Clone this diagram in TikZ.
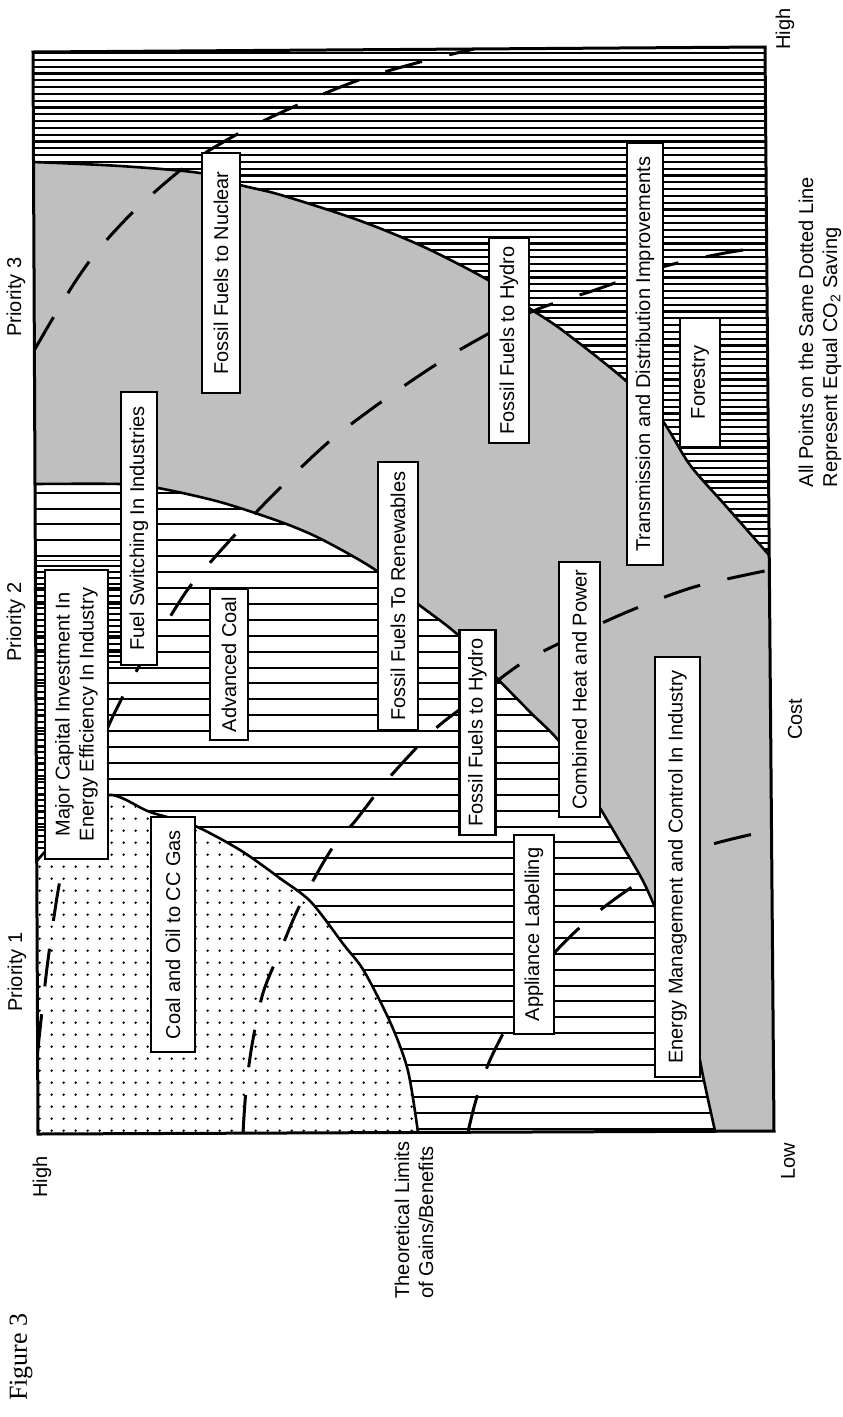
\documentclass[tikz,border=0pt]{standalone}
\usepackage{fontspec}
\setmainfont{Liberation Sans}
\newfontfamily\figserif{Liberation Serif}
\tikzset{
  lbl/.style={draw, fill=white, line width=2.4pt, rotate=90, inner sep=0pt, align=center, font=\fontsize{20}{24}\selectfont},
  txt/.style={rotate=90, inner sep=0pt, font=\fontsize{20}{24}\selectfont},
  bnd/.style={line width=2.6pt, line join=round},
  iso/.style={line width=3pt, dash pattern=on 38pt off 28pt},
  hatchA/.style={line width=2.2pt},
  hatchB/.style={line width=2pt},
  ladder/.style={line width=1.4pt},
}
\begin{document}
\begin{tikzpicture}[x=1pt,y=-1pt]
\useasboundingbox (0,0) rectangle (843,1417);
\fill[white] (0,0) rectangle (843,1417);
\coordinate (tl) at (33,52);
\coordinate (tr) at (765,47);
\coordinate (br) at (774,1131);
\coordinate (bl) at (38,1134);

% grey stippled band
\fill[black!25] plot[smooth] coordinates {(33.5,162) (120,166) (200,173) (240,185) (281,195) (358,220) (424,247) (488,280) (529,308) (562,330) (625,380) (662,420) (690,465) (725,505) (769,555)} -- (br) -- (715,1131) -- plot[smooth] coordinates {(715,1131) (703,1076) (690,1010) (670,945) (645,885) (619,840) (600,808) (562,745) (530,712) (494,675) (458,635) (418,604) (374,569) (321,539) (281,522) (220,502) (158,488) (120,484) (35,484)} -- cycle;

% Priority 3 dense hatching
\begin{scope}
\clip (tl) -- (tr) -- (769,555) -- plot[smooth] coordinates {(769,555) (725,505) (690,465) (662,420) (625,380) (562,330) (529,308) (488,280) (424,247) (358,220) (281,195) (240,185) (200,173) (120,166) (33.5,162)} -- cycle;
\foreach \y in {53,59.8,...,562} \draw[hatchA] (30,\y) -- (775,\y);
\end{scope}

% Priority 2 hatching
\begin{scope}
\clip plot[smooth] coordinates {(35,484) (120,484) (158,488) (220,502) (281,522) (321,539) (374,569) (418,604) (458,635) (494,675) (530,712) (562,745) (600,808) (619,840) (645,885) (670,945) (690,1010) (703,1076) (715,1131)} -- (418,1132.5) -- plot[smooth] coordinates {(418,1132.5) (408,1071) (391,1024) (364,971) (344,945) (311,902) (281,879) (240,850) (193,825) (150,812) (108,795) (70,825) (36.7,861)} -- cycle;
\foreach \y in {492.6,508.5,...,1135} \draw[hatchB] (30,\y) -- (775,\y);
\end{scope}

% ladder strips near the capital investment box
\begin{scope}
\clip (35,560) rectangle (45,852) (35,560) rectangle (121,572) (108,560) rectangle (121,665);
\foreach \y in {560,566,...,860} \draw[ladder] (35,\y) -- (121,\y);
\end{scope}

% Priority 1 dots
\begin{scope}
\clip plot[smooth] coordinates {(36.7,861) (70,825) (108,795) (150,812) (193,825) (240,850) (281,879) (311,902) (344,945) (364,971) (391,1024) (408,1071) (418,1132.5)} -- (bl) -- cycle;
\foreach \i in {-1,...,31} \foreach \j in {-16,...,15} \fill ({51.7+12*\i},{950.7+12*\j}) circle (1.3);
\end{scope}

% region boundaries
\draw[bnd] plot[smooth] coordinates {(33.5,162) (120,166) (200,173) (240,185) (281,195) (358,220) (424,247) (488,280) (529,308) (562,330) (625,380) (662,420) (690,465) (725,505) (769,555)};
\draw[bnd] plot[smooth] coordinates {(35,484) (120,484) (158,488) (220,502) (281,522) (321,539) (374,569) (418,604) (458,635) (494,675) (530,712) (562,745) (600,808) (619,840) (645,885) (670,945) (690,1010) (703,1076) (715,1131)};
\draw[bnd] plot[smooth] coordinates {(36.7,861) (70,825) (108,795) (150,812) (193,825) (240,850) (281,879) (311,902) (344,945) (364,971) (391,1024) (408,1071) (418,1132.5)};

% equal CO2 saving lines
\draw[iso] plot[smooth] coordinates {(468,1132) (476,1100) (490,1060) (515,1012) (550,958) (594,915) (647,877) (700,848) (771.5,830)};
\draw[iso] plot[smooth] coordinates {(243,1133) (246,1090) (252,1045) (263,993) (281,949) (300,905) (331,850) (356,820) (388,779) (434,730) (470,702) (519,665) (562,642) (627,612) (694,587) (769.5,570)};
\draw[iso] plot[smooth] coordinates {(37.6,1052) (48,960) (62,870) (85,790) (108,727) (137,670) (165,625) (188,589) (215,557) (245,524) (281,487) (331,440) (391,395) (456,352) (531,312) (595,290) (662,267) (725,253) (766,247)};
\draw[iso] plot[smooth] coordinates {(34.4,350) (53,318) (75,282) (98,250) (130,215) (165,183) (197,158) (245,130) (300,104) (359,80) (420,62) (474,49)};

% frame
\draw[line width=3pt, line join=miter] (tl) -- (tr) -- (br) -- (bl) -- cycle;

% labelled boxes
\node[lbl, minimum width=240pt, minimum height=38pt] (nuc) at (221,273) {Fossil Fuels to Nuclear};
\node[lbl, minimum width=273pt, minimum height=36pt] (fsw) at (139,528.5) {Fuel Switching In Industries};
\node[lbl, minimum width=289pt, minimum height=63pt] (maj) at (76.5,714.5) {Major Capital Investment In\\Energy Efficiency In Industry};
\node[lbl, minimum width=151pt, minimum height=38pt] (adv) at (229,664.5) {Advanced Coal};
\node[lbl, minimum width=268pt, minimum height=40pt] (ren) at (398,596) {Fossil Fuels To Renewables};
\node[lbl, minimum width=205pt, minimum height=40pt] (hydA) at (509,340.5) {Fossil Fuels to Hydro};
\node[lbl, minimum width=205pt, minimum height=36pt] (hydB) at (477.5,732.5) {Fossil Fuels to Hydro};
\node[lbl, minimum width=255pt, minimum height=41pt] (chp) at (579.5,689.5) {Combined Heat and Power};
\node[lbl, minimum width=422pt, minimum height=36pt] (trn) at (645,354) {Transmission and Distribution Improvements};
\node[lbl, minimum width=129pt, minimum height=40pt] (for) at (700,382.5) {Forestry};
\node[lbl, minimum width=420pt, minimum height=45pt] (eng) at (677.5,867) {Energy Management and Control In Industry};
\node[lbl, minimum width=199pt, minimum height=40pt] (app) at (534,934.5) {Appliance Labelling};
\node[lbl, minimum width=235pt, minimum height=44pt] (coal) at (173,934.5) {Coal and Oil to CC Gas};

% outer texts
\node[txt] (p1) at (17,972) {Priority 1};
\node[txt] (p2) at (16,622) {Priority 2};
\node[txt] (p3) at (16,297) {Priority 3};
\node[txt] (chigh) at (785,29) {High};
\node[txt, align=left] (note) at (820,332) {All Points on the Same Dotted Line\\Represent Equal CO\textsubscript{2} Saving};
\node[txt] (cost) at (795,719) {Cost};
\node[txt] (low) at (788,1161) {Low};
\node[txt] (bhigh) at (42,1177) {High};
\node[txt, align=left] (theo) at (414,1220) {Theoretical Limits\\of Gains/Benefits};
\node[rotate=90, inner sep=0pt, font=\figserif\fontsize{26}{30}\selectfont] (fig) at (21,1357) {Figure 3};
\end{tikzpicture}
\end{document}
